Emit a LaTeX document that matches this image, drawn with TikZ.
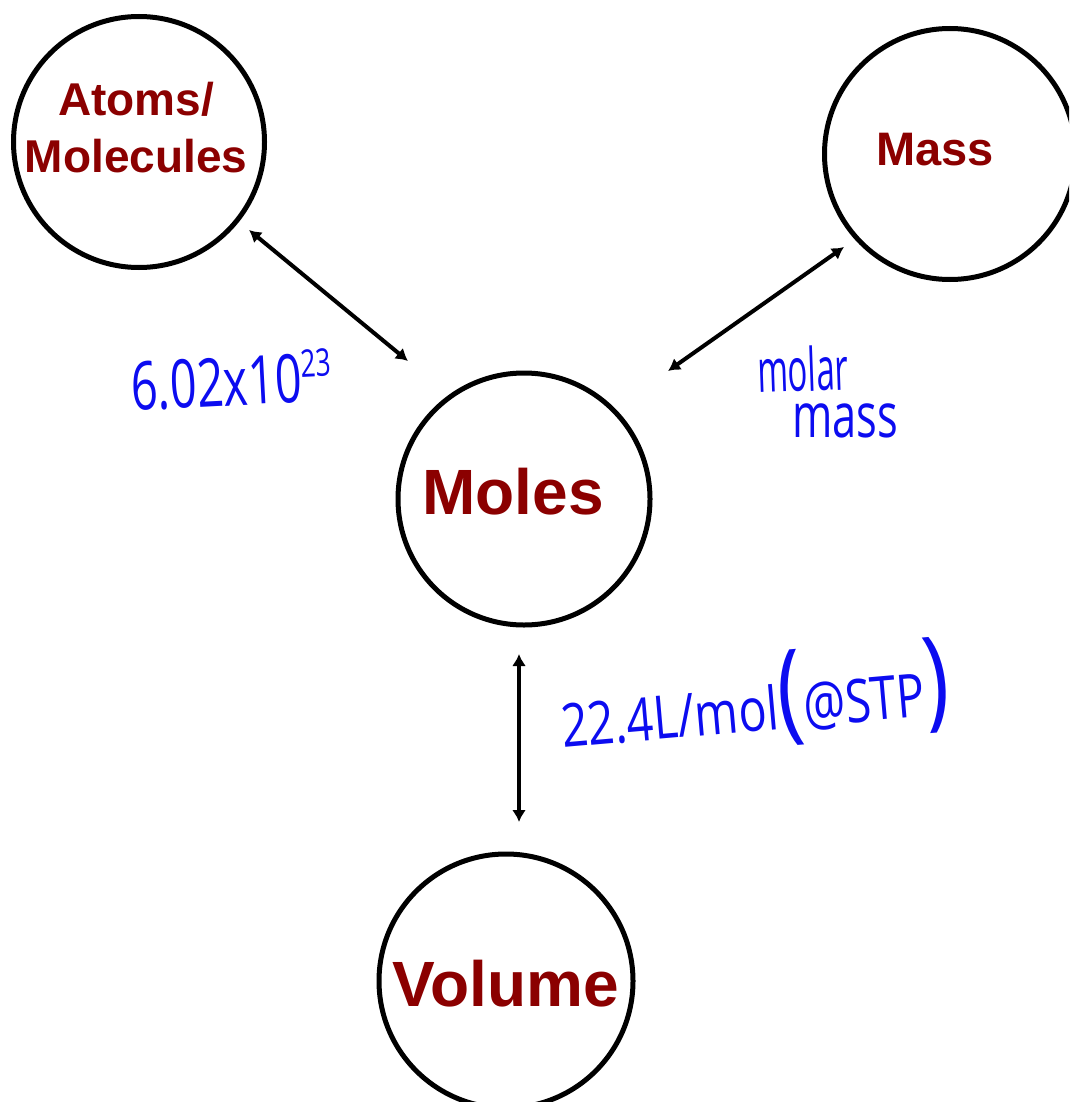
\documentclass[tikz,border=0pt]{standalone}
\usepackage{fontspec}
\setmainfont{Liberation Sans}
\newfontfamily\handfont{Open Sans}
\usetikzlibrary{arrows.meta}
\definecolor{dred}{RGB}{139,0,0}
\definecolor{ink}{RGB}{12,12,240}
\begin{document}
\begin{tikzpicture}[x=1pt,y=-1pt,
  ring/.style={circle, draw=black, line width=5pt, inner sep=0pt},
  lbl/.style={text=dred, inner sep=0pt, anchor=base},
  link/.style={{Latex[length=12pt,width=14pt]}-{Latex[length=12pt,width=14pt]}, line width=4pt},
  hand/.style={text=ink, inner sep=0pt, transform shape, anchor=base west}
]
\useasboundingbox (0,0) rectangle (1069,1102);
\clip (0,0) rectangle (1069,1102);

% circles
\node[ring, minimum size=251pt] (atoms)  at (139,142) {};
\node[ring, minimum size=251pt] (mass)   at (950,154) {};
\node[ring, minimum size=252pt] (moles)  at (524,499) {};
\node[ring, minimum size=254pt] (volume) at (506,981) {};

% labels
\node[lbl, align=center, font=\bfseries\fontsize{46}{56}\selectfont] (atomsT) at (136,172) {Atoms/\\Molecules};
\node[lbl, font=\bfseries\fontsize{47}{56}\selectfont] (massT) at (935,166) {Mass};
\node[lbl, font=\bfseries\fontsize{64}{72}\selectfont] (molesT) at (513,514) {Moles};
\node[lbl, font=\bfseries\fontsize{64}{72}\selectfont] (volumeT) at (506,1006) {Volume};

% arrow end points
\coordinate (a1) at (249,230);
\coordinate (a2) at (408,361);
\coordinate (m1) at (844,247);
\coordinate (m2) at (668,371);
\coordinate (v1) at (519,654);
\coordinate (v2) at (519,822);

\draw[link] (a1) -- (a2);
\draw[link] (m1) -- (m2);
\draw[link] (v1) -- (v2);

% handwritten notes
\node[hand, rotate=3, xscale=0.7, font=\handfont\fontsize{67}{67}\selectfont] (avog) at (132,411)
  {6.02x10\raisebox{25pt}{\fontsize{38}{38}\selectfont 23}};
\node[hand, rotate=2, xscale=0.55, font=\handfont\fontsize{60}{60}\selectfont] (molar) at (758,393) {molar};
\node[hand, xscale=0.7, font=\handfont\fontsize{62}{62}\selectfont] (massnote) at (792,437) {mass};
\node[hand, rotate=5, xscale=0.78, font=\handfont\fontsize{60}{60}\selectfont] (stp) at (563,748)
  {22.4L/mol{\fontsize{110}{110}\selectfont(}@STP{\fontsize{110}{110}\selectfont)}};
\end{tikzpicture}
\end{document}
